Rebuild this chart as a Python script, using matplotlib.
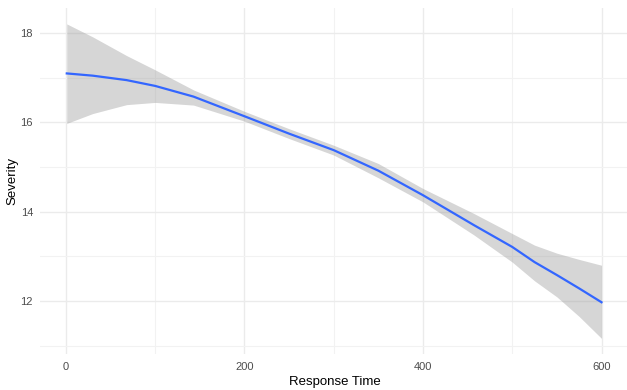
import numpy as np
import matplotlib
matplotlib.use('Agg')
import matplotlib.pyplot as plt
from matplotlib.ticker import MultipleLocator

# ------ DATA ----
response_time = [1, 30, 68, 100, 143, 200, 250, 300, 350, 400, 457, 500, 525, 550, 575, 600]
severity_fit = [17.10, 17.05, 16.95, 16.82, 16.58, 16.14, 15.75, 15.38, 14.92, 14.37, 13.70, 13.21, 12.87, 12.58, 12.28, 11.97]
ci_upper = [18.21, 17.92, 17.50, 17.18, 16.73, 16.25, 15.86, 15.49, 15.08, 14.52, 13.96, 13.51, 13.25, 13.07, 12.93, 12.80]
ci_lower = [15.98, 16.20, 16.40, 16.45, 16.39, 16.03, 15.64, 15.27, 14.76, 14.22, 13.48, 12.87, 12.45, 12.09, 11.65, 11.16]

x_ticks = [0, 200, 400, 600]
y_ticks = [12, 14, 16, 18]

plt.rcParams['font.family'] = ['Liberation Sans', 'DejaVu Sans']

fig = plt.figure(figsize=(6.27, 3.9), dpi=100)
ax = fig.add_axes([40 / 627, 1 - 354 / 390, (629.2 - 40) / 627, (354 - 8.3) / 390])

# CONFIDENCE BAND + FIT
ax.fill_between(response_time, ci_lower, ci_upper, color='#999999', alpha=0.4, linewidth=0, zorder=2)
ax.plot(response_time, severity_fit, color='#3366FF', linewidth=1.6, zorder=3)

# AXES
ax.set_xlim(-29, 631)
ax.set_ylim(10.81, 18.56)
ax.set_xticks(x_ticks)
ax.set_yticks(y_ticks)
ax.xaxis.set_minor_locator(MultipleLocator(100))
ax.yaxis.set_minor_locator(MultipleLocator(1))
ax.grid(which='major', color='#EBEBEB', linewidth=1.0, zorder=0)
ax.grid(which='minor', color='#F2F2F2', linewidth=0.8, zorder=0)
ax.set_axisbelow(True)
for s in ax.spines.values():
    s.set_visible(False)
ax.tick_params(which='both', length=0, labelsize=8, labelcolor='#4D4D4D')
ax.tick_params(axis='x', pad=6)
ax.tick_params(axis='y', pad=5)

ax.set_xlabel('Response Time', fontsize=9.5, color='black', labelpad=3)
ax.set_ylabel('Severity', fontsize=9.5, color='black', labelpad=1.5)

fig.savefig('out.png', dpi=100)
